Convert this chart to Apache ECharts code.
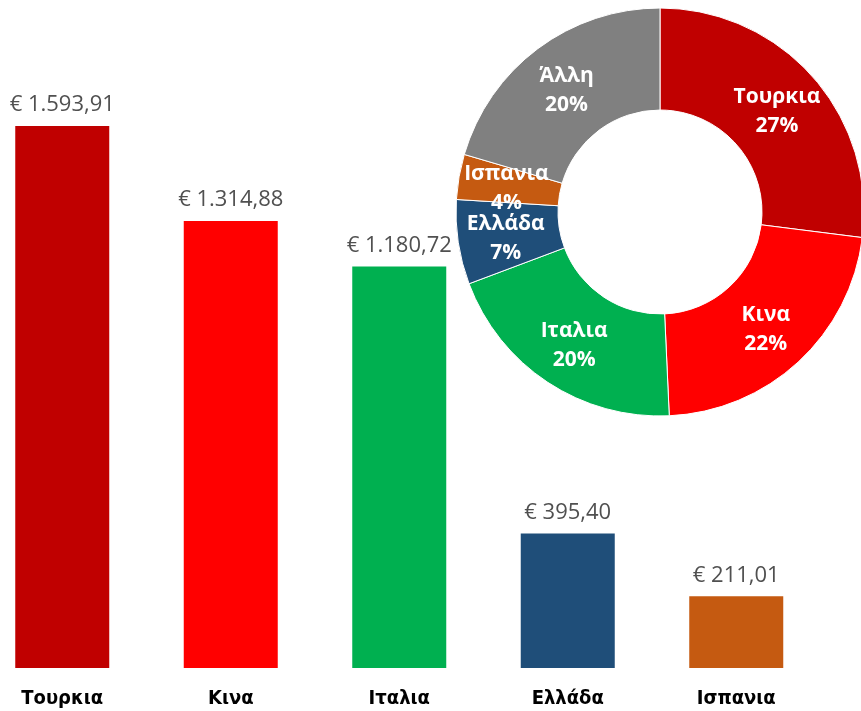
<!DOCTYPE html>
<html>
  <head>
    <meta charset="UTF-8" />
    <title>Εισαγωγές ανά χώρα</title>
    <script src="https://cdn.jsdelivr.net/npm/echarts@6.0.0/dist/echarts.min.js"></script>
    <style>
      html, body { margin: 0; padding: 0; background: #fff; }
    </style>
  </head>
  <body>
    <div id="chart" style="width: 861px; height: 711px"></div>
  </body>
  <script>
    // bar data (values in €)
    const countries = ['Τουρκια', 'Κινα', 'Ιταλια', 'Ελλάδα', 'Ισπανια'];
    const amounts = [1593.91, 1314.88, 1180.72, 395.40, 211.01];
    const barColors = ['#C00000', '#FF0000', '#00B050', '#1F4E79', '#C55A11'];

    // donut data: same countries plus the rest
    const pieNames = ['Τουρκια', 'Κινα', 'Ιταλια', 'Ελλάδα', 'Ισπανια', 'Άλλη'];
    const pieValues = [1593.91, 1314.88, 1180.72, 395.40, 211.01, 1207.00];
    const pieColors = ['#C00000', '#FF0000', '#00B050', '#1F4E79', '#C55A11', '#808080'];

    function euro(v) {
      let parts = v.toFixed(2).split('.');
      let whole = parts[0].replace(/\B(?=(\d{3})+(?!\d))/g, '.');
      return '€ ' + whole + ',' + parts[1];
    }

    let myChart = echarts.init(document.getElementById('chart'));

    myChart.setOption({
      animation: false,
      grid: { left: -22, width: 842.5, top: 56, bottom: 43, outerBoundsMode: 'none', containLabel: false },
      xAxis: {
        type: 'category',
        data: countries,
        axisLine: { show: false },
        axisTick: { show: false },
        axisLabel: {
          margin: 21,
          color: '#000',
          fontSize: 20,
          fontWeight: 'bold',
          fontFamily: '"Liberation Sans Narrow", "DejaVu Sans Condensed", sans-serif'
        }
      },
      yAxis: {
        type: 'value',
        min: 0,
        max: 1800,
        show: false,
        splitLine: { show: false }
      },
      series: [
        {
          type: 'bar',
          barWidth: 94,
          data: amounts.map((v, i) => ({ value: v, itemStyle: { color: barColors[i] } })),
          label: {
            show: true,
            position: 'top',
            distance: 10,
            color: '#505050',
            fontSize: 22,
            fontFamily: '"Open Sans", sans-serif',
            formatter: p => euro(p.value)
          }
        },
        {
          type: 'pie',
          center: [660, 212],
          radius: [102, 204],
          startAngle: 90,
          clockwise: true,
          percentPrecision: 0,
          avoidLabelOverlap: false,
          labelLayout: { hideOverlap: false },
          data: pieNames.map((n, i) => ({ name: n, value: pieValues[i], itemStyle: { color: pieColors[i] } })),
          itemStyle: { borderColor: '#fff', borderWidth: 1 },
          label: {
            show: true,
            position: 'inside',
            color: '#fff',
            fontSize: 21,
            lineHeight: 29,
            fontWeight: 'bold',
            fontFamily: '"Open Sans", sans-serif',
            offset: [0, 3],
            formatter: '{b}\n{d}%'
          },
          labelLine: { show: false },
          emphasis: { disabled: true }
        }
      ]
    });
  </script>
</html>
